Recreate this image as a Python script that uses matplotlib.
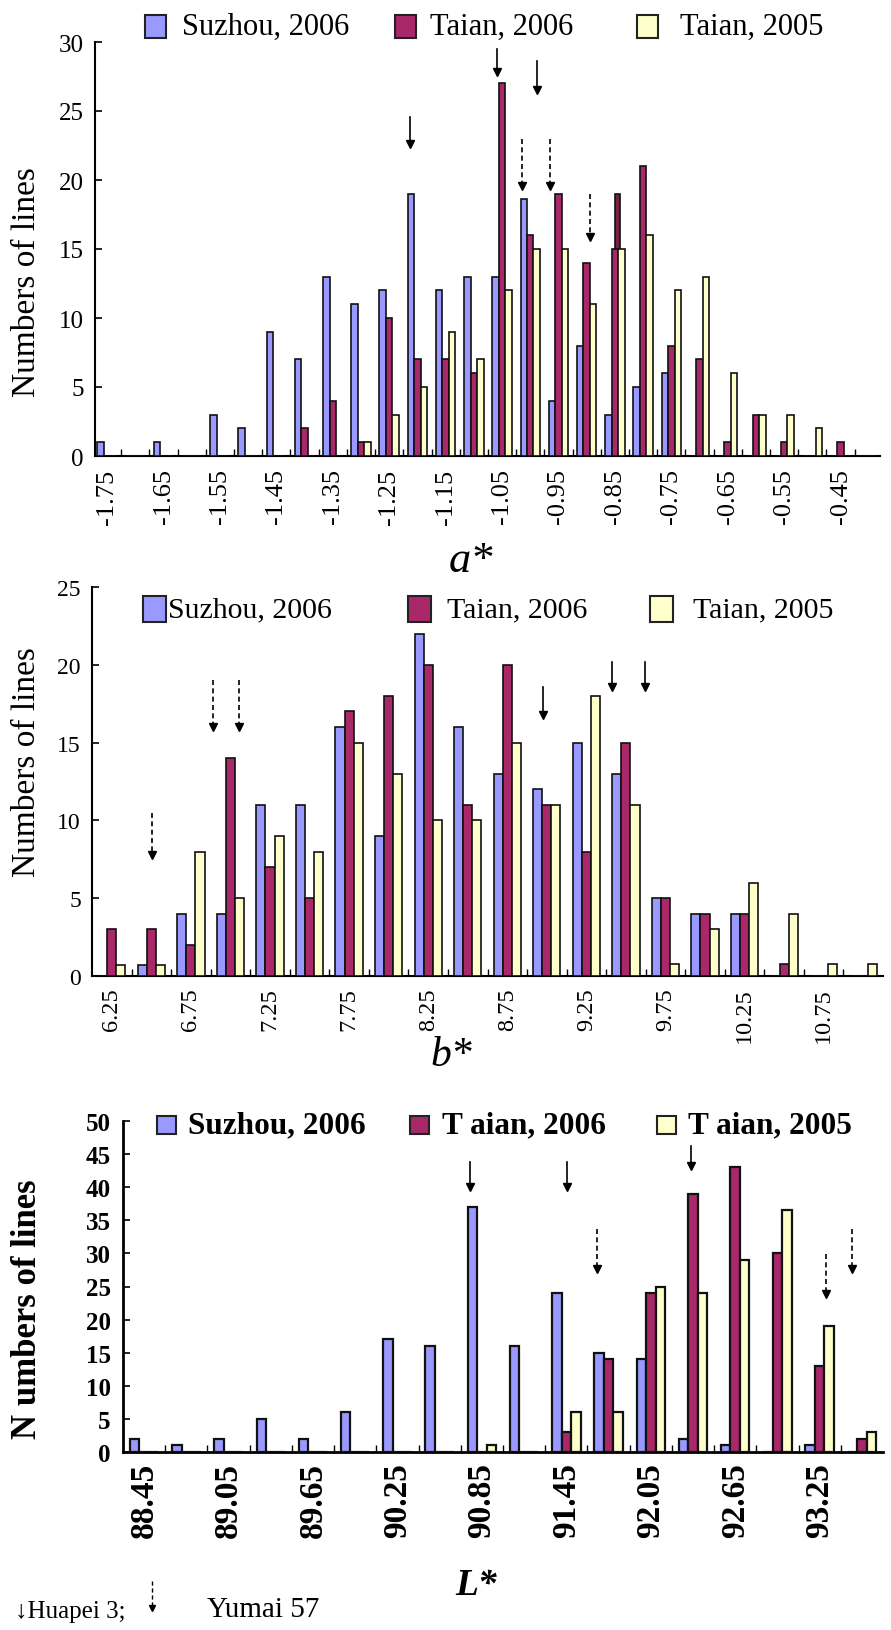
import numpy as np
import matplotlib
matplotlib.use('Agg')
import matplotlib.pyplot as plt
from matplotlib.patches import Rectangle
from matplotlib.lines import Line2D

# ---------------- data ----------------
# a*
a_cats = [-1.75, -1.70, -1.65, -1.60, -1.55, -1.50, -1.45, -1.40, -1.35, -1.30,
          -1.25, -1.20, -1.15, -1.10, -1.05, -1.00, -0.95, -0.90, -0.85, -0.80,
          -0.75, -0.70, -0.65, -0.60, -0.55, -0.50, -0.45, -0.40]
a_suzhou06 = [1, 0, 1, 0, 3, 2, 9, 7, 13, 11, 12, 19, 12, 13, 13, 18.6, 4, 8, 3, 5,
              6, 0, 0, 0, 0, 0, 0, 0]
a_taian06 = [0, 0, 0, 0, 0, 0, 0, 2, 4, 1, 10, 7, 7, 6, 27, 16, 19, 14, 15, 21,
             8, 7, 1, 3, 1, 0, 1, 0]
a_taian05 = [0, 0, 0, 0, 0, 0, 0, 0, 0, 1, 3, 5, 9, 7, 12, 15, 15, 11, 15, 16,
             12, 13, 6, 3, 3, 2, 0, 0]
# a doubled Taian 2006 bar in the original figure
a_extra_cat = [-0.85]
a_extra_val = [19]

# b*
b_cats = [6.25, 6.50, 6.75, 7.00, 7.25, 7.50, 7.75, 8.00, 8.25, 8.50,
          8.75, 9.00, 9.25, 9.50, 9.75, 10.00, 10.25, 10.50, 10.75, 11.00]
b_suzhou06 = [0, 0.7, 4, 4, 11, 11, 16, 9, 22, 16, 13, 12, 15, 13, 5, 4, 4, 0, 0, 0]
b_taian06 = [3, 3, 2, 14, 7, 5, 17, 18, 20, 11, 20, 11, 8, 15, 5, 4, 4, 0.8, 0, 0]
b_taian05 = [0.7, 0.7, 8, 5, 9, 8, 15, 13, 10, 10, 15, 11, 18, 11, 0.8, 3, 6, 4, 0.8, 0.8]

# L*
L_cats = [88.45, 88.75, 89.05, 89.35, 89.65, 89.95, 90.25, 90.55, 90.85, 91.15,
          91.45, 91.75, 92.05, 92.35, 92.65, 92.95, 93.25, 93.55]
L_suzhou06 = [2, 1, 2, 5, 2, 6, 17, 16, 37, 16, 24, 15, 14, 2, 1, 0, 1, 0]
L_taian06 = [0, 0, 0, 0, 0, 0, 0, 0, 0, 0, 3, 14, 24, 39, 43, 30, 13, 2]
L_taian05 = [0, 0, 0, 0, 0, 0, 0, 0, 1, 0, 6, 6, 25, 24, 29, 36.5, 19, 3]

# arrows: (category position, top, tip)   solid = Huapei 3, dashed = Yumai 57
a_huapei = [(10.74, 24.6, 22.6), (13.83, 29.5, 27.8), (15.25, 28.6, 26.5)]
a_yumai = [(14.72, 23.0, 19.6), (15.71, 23.0, 19.6), (17.13, 19.0, 15.9)]
b_huapei = [(10.91, 18.6, 16.8), (12.66, 20.2, 18.6), (13.47, 20.2, 18.6)]
b_yumai = [(1.01, 10.5, 7.8), (2.56, 19.0, 16.0), (3.22, 19.0, 16.0)]
L_huapei = [(7.71, 43.8, 40.0), (10.02, 43.8, 40.0), (12.96, 46.2, 43.2)]
L_yumai = [(10.73, 33.7, 27.6), (16.15, 29.9, 23.8), (16.76, 33.7, 27.6)]

series_names = ['Suzhou, 2006', 'Taian, 2006', 'Taian, 2005']
series_names_L = ['Suzhou, 2006', 'T aian, 2006', 'T aian, 2005']
colors = ['#9999ff', '#a8286a', '#ffffcc']

# ---------------- figure ----------------
W, H = 891, 1631
plt.rcParams['font.family'] = ['Liberation Serif', 'DejaVu Serif']
fig = plt.figure(figsize=(W / 100, H / 100), dpi=100)


def px_axes(l, t, r, b):
    return [l / W, 1 - b / H, (r - l) / W, (b - t) / H]


def draw_bars(ax, s1, s2, s3, w, lw):
    x = np.arange(len(s1))
    for k, (vals, c) in enumerate(zip([s1, s2, s3], colors)):
        ax.bar(x + (k - 1) * w, vals, width=w, color=c, edgecolor='#111111',
               linewidth=lw, zorder=3)


def draw_arrows(ax, arrows, dashed, ms):
    for xa, y0, y1 in arrows:
        ax.plot([xa, xa], [y0, y1], color='k', lw=1.2,
                ls=(0, (3, 2)) if dashed else '-', zorder=4)
        ax.plot(xa, y1, marker='v', color='k', ms=ms, zorder=4)


def style_axes(ax, cats, fmt, ylim, ystep, xfs, yfs, xpad, ypad, weight, lw):
    n = len(cats)
    ax.set_ylim(0, ylim)
    ax.spines['top'].set_visible(False)
    ax.spines['right'].set_visible(False)
    ax.spines['left'].set_linewidth(lw)
    ax.spines['bottom'].set_linewidth(lw)
    ax.set_xticks(np.arange(0, n, 2))
    ax.set_xticklabels([fmt % c for c in cats[::2]], rotation=90,
                       fontsize=xfs, fontweight=weight)
    ax.set_xticks(np.arange(n - 1) + 0.5, minor=True)
    ax.tick_params(axis='x', which='major', length=0, pad=xpad)
    ax.tick_params(axis='x', which='minor', direction='in', length=5, width=1)
    ax.set_yticks(np.arange(0, ylim + 1, ystep))
    ax.set_yticklabels(['%d' % v for v in np.arange(0, ylim + 1, ystep)],
                       fontsize=yfs, fontweight=weight)
    ax.tick_params(axis='y', direction='in', length=5, width=1.2, pad=ypad)


def legend_row(sq_x, txt_x, yc, sq_w, sq_h, labels, fs, weight):
    for sx, tx, c, lab in zip(sq_x, txt_x, colors, labels):
        fig.add_artist(Rectangle((sx / W, 1 - (yc + sq_h / 2) / H), sq_w / W, sq_h / H,
                                 transform=fig.transFigure, facecolor=c,
                                 edgecolor='#222222', linewidth=1.5))
        fig.text(tx / W, 1 - yc / H, lab, fontsize=fs, fontweight=weight,
                 ha='left', va='center')


# ---- panel a* ----
ax1 = fig.add_axes(px_axes(95, 43, 880, 457))
ax1.bar([a_cats.index(c) + 0.09 for c in a_extra_cat], a_extra_val, width=0.16,
        color='#7a1f45', edgecolor='#111111', linewidth=1.2, zorder=2)
draw_bars(ax1, a_suzhou06, a_taian06, a_taian05, 0.23, 1.2)
draw_arrows(ax1, a_huapei, False, 6)
draw_arrows(ax1, a_yumai, True, 6)
style_axes(ax1, a_cats, '%.2f', 30, 5, 19, 18, 9, 8, 'normal', 1.5)
ax1.set_xlim(-0.43, 27.4)
ax1.set_ylabel('Numbers of lines', fontsize=24, va='center')
ax1.yaxis.set_label_coords((27 - 95) / 785, (457 - 282) / 414)
legend_row([145, 395, 637], [182, 430, 680], 27, 21, 23, series_names, 22, 'normal')
fig.text(471 / W, 1 - 561 / H, 'a*', fontsize=32, fontstyle='italic',
         ha='center', va='center')

# ---- panel b* ----
ax2 = fig.add_axes(px_axes(92, 588, 883, 977))
draw_bars(ax2, b_suzhou06, b_taian06, b_taian05, 0.23, 1.2)
draw_arrows(ax2, b_huapei, False, 6)
draw_arrows(ax2, b_yumai, True, 6)
style_axes(ax2, b_cats, '%.2f', 25, 5, 17.5, 17, 8, 8, 'normal', 1.5)
ax2.set_xlim(-0.5, 19.5)
ax2.set_ylabel('Numbers of lines', fontsize=24, va='center')
ax2.yaxis.set_label_coords((27 - 92) / 791, (977 - 762) / 389)
legend_row([143, 408, 650], [168, 447, 693], 610, 23, 26, series_names, 21.5, 'normal')
fig.text(451 / W, 1 - 1056 / H, 'b*', fontsize=30, fontstyle='italic',
         ha='center', va='center')

# ---- panel L* ----
ax3 = fig.add_axes(px_axes(123, 1122, 883, 1453))
draw_bars(ax3, L_suzhou06, L_taian06, L_taian05, 0.225, 1.6)
draw_arrows(ax3, L_huapei, False, 6)
draw_arrows(ax3, L_yumai, True, 6)
style_axes(ax3, L_cats, '%.2f', 50, 5, 24, 18, 7, 9, 'bold', 2)
ax3.set_xlim(-0.5, 17.5)
ax3.set_ylabel('N umbers of lines', fontsize=25, fontweight='bold', va='center')
ax3.yaxis.set_label_coords((27 - 123) / 760, (1453 - 1309) / 331)
legend_row([157, 410, 657], [188, 442, 688], 1126, 19, 18, series_names_L, 22.5, 'bold')
fig.text(476 / W, 1 - 1586 / H, 'L*', fontsize=27, fontstyle='italic',
         fontweight='bold', ha='center', va='center')

# ---- cultivar key ----
fig.text(15 / W, 1 - 1612 / H, '\u2193Huapei 3;', fontsize=18, ha='left', va='center',
         family=['Liberation Serif', 'DejaVu Serif'])
fig.add_artist(Line2D([152 / W, 152 / W], [1 - 1582 / H, 1 - 1607 / H],
                      transform=fig.transFigure, color='k', lw=1, ls=(0, (3, 2))))
fig.add_artist(Line2D([152 / W], [1 - 1609 / H], transform=fig.transFigure,
                      marker='v', color='k', ms=5))
fig.text(207 / W, 1 - 1610 / H, 'Yumai 57', fontsize=21, ha='left', va='center')

fig.savefig('out.png', dpi=100)
